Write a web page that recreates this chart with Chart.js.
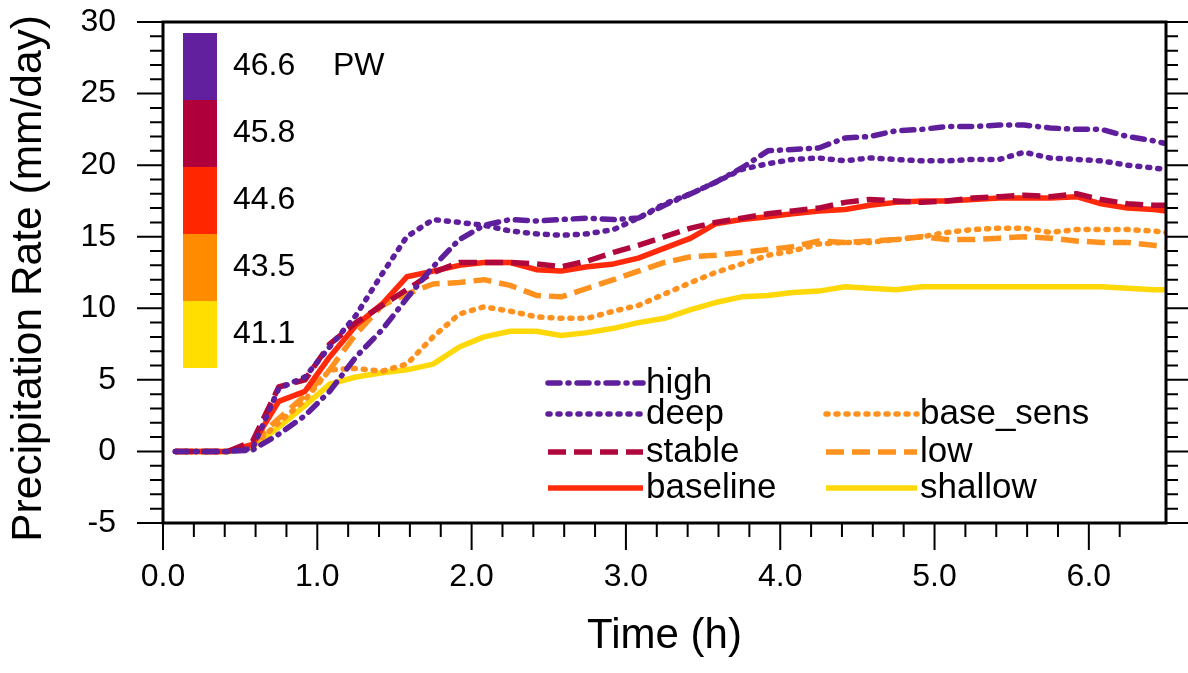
<!DOCTYPE html>
<html>
<head>
<meta charset="utf-8">
<script src="https://cdn.jsdelivr.net/npm/chart.js@4.4.0/dist/chart.umd.min.js"></script>
<style>
html, body { margin: 0; padding: 0; background: #fff; }
#wrap { width: 1188px; height: 673px; }
</style>
</head>
<body>
<div id="wrap"><canvas id="rateChart"></canvas></div>
<script>
// time in hours, values in mm/day
const times = [0.08, 0.25, 0.42, 0.58, 0.75, 0.92, 1.08, 1.25, 1.42, 1.58, 1.75, 1.92, 2.08, 2.25, 2.42, 2.58, 2.75, 2.92, 3.08, 3.25,
               3.42, 3.58, 3.75, 3.92, 4.08, 4.25, 4.42, 4.58, 4.75, 4.92, 5.08, 5.25, 5.42, 5.58, 5.75, 5.92, 6.08, 6.25, 6.42, 6.5];

const high      = [0, 0, 0, 0.1, 1.2, 2.5, 4.2, 6.6, 8.5, 10.7, 12.9, 14.8, 15.8, 16.2, 16.1, 16.2, 16.3, 16.2, 16.3, 17.2,
                   18.0, 18.8, 19.8, 21.0, 21.1, 21.2, 21.9, 22.0, 22.4, 22.5, 22.7, 22.7, 22.8, 22.8, 22.6, 22.5, 22.5, 22.0, 21.7, 21.5];
const deep      = [0, 0, 0, 0.2, 4.4, 5.2, 7.3, 9.5, 12.4, 15.0, 16.2, 16.0, 15.8, 15.4, 15.2, 15.1, 15.2, 15.5, 16.3, 17.3,
                   18.0, 18.8, 19.7, 20.1, 20.4, 20.5, 20.3, 20.5, 20.4, 20.3, 20.3, 20.4, 20.4, 20.9, 20.5, 20.4, 20.3, 20.0, 19.8, 19.7];
const stable    = [0, 0, 0, 0.7, 4.5, 5.0, 7.5, 9.0, 10.2, 11.3, 12.5, 13.2, 13.2, 13.2, 13.1, 12.9, 13.3, 13.9, 14.4, 15.0,
                   15.6, 16.0, 16.3, 16.6, 16.8, 17.0, 17.4, 17.6, 17.5, 17.4, 17.5, 17.7, 17.8, 17.9, 17.8, 18.0, 17.6, 17.3, 17.2, 17.2];
const baseline  = [0, 0, 0, 0.5, 3.5, 4.2, 6.6, 8.8, 10.3, 12.2, 12.6, 13.0, 13.2, 13.2, 12.7, 12.6, 12.9, 13.1, 13.5, 14.2,
                   14.9, 15.9, 16.2, 16.4, 16.6, 16.8, 16.9, 17.2, 17.4, 17.5, 17.5, 17.6, 17.7, 17.7, 17.7, 17.8, 17.3, 17.0, 16.9, 16.8];
const baseSens  = [0, 0, 0, 0.4, 2.0, 3.6, 5.7, 5.8, 5.6, 6.1, 8.0, 9.6, 10.1, 9.8, 9.4, 9.3, 9.3, 9.8, 10.2, 11.0,
                   11.8, 12.5, 13.1, 13.7, 14.0, 14.5, 14.6, 14.6, 14.8, 15.0, 15.3, 15.5, 15.6, 15.6, 15.3, 15.5, 15.5, 15.5, 15.4, 15.3];
const low       = [0, 0, 0, 0.6, 2.3, 3.9, 5.7, 8.2, 10.2, 11.0, 11.7, 11.8, 12.0, 11.6, 10.9, 10.8, 11.4, 12.0, 12.6, 13.2,
                   13.6, 13.7, 13.9, 14.1, 14.3, 14.7, 14.6, 14.7, 14.8, 15.0, 14.8, 14.8, 14.9, 15.0, 14.9, 14.7, 14.6, 14.6, 14.4, 14.3];
const shallow   = [0, 0, 0, 0.3, 1.7, 3.2, 4.7, 5.2, 5.5, 5.7, 6.1, 7.3, 8.0, 8.4, 8.4, 8.1, 8.3, 8.6, 9.0, 9.3,
                   9.9, 10.4, 10.8, 10.9, 11.1, 11.2, 11.5, 11.4, 11.3, 11.5, 11.5, 11.5, 11.5, 11.5, 11.5, 11.5, 11.5, 11.4, 11.3, 11.3];

const seriesNames = ['high', 'deep', 'stable', 'baseline', 'base_sens', 'low', 'shallow'];
const seriesValues = [high, deep, stable, baseline, baseSens, low, shallow];

// colour bar (PW)
const pwLabels = ['46.6', '45.8', '44.6', '43.5', '41.1'];

const FONT = '"Liberation Sans", Arial, Helvetica, sans-serif';
const purple = '#5f1f9c';
const crimson = '#b0083c';
const red = '#ff2a0a';
const orange = '#ff911f';
const yellow = '#ffd80a';
const pwColors = ['#62209e', '#b0003c', '#ff2600', '#ff8c00', '#ffde00'];

const lineStyles = [
    { color: purple, dash: [12, 8, 1, 8], cap: 'round' },
    { color: purple, dash: [2, 8], cap: 'round' },
    { color: crimson, dash: [18, 8], cap: 'butt' },
    { color: red, dash: [], cap: 'butt' },
    { color: orange, dash: [2, 8], cap: 'round' },
    { color: orange, dash: [18, 8], cap: 'butt' },
    { color: yellow, dash: [], cap: 'butt' }
];

// legend slot for each series: [column, row]
const legendSlots = [[0, 0], [0, 1], [0, 2], [0, 3], [1, 1], [1, 2], [1, 3]];

const datasets = seriesNames.map((name, i) => ({
    label: name,
    data: times.map((t, k) => ({ x: t, y: seriesValues[i][k] })),
    borderColor: lineStyles[i].color,
    borderDash: lineStyles[i].dash,
    borderCapStyle: lineStyles[i].cap,
    borderJoinStyle: 'round',
    borderWidth: 5.5,
    pointRadius: 0,
    tension: 0,
    fill: false
}));

const isWhole = v => Math.abs(v - Math.round(v)) < 1e-6;

const frameAndExtras = {
    id: 'frameAndExtras',
    afterDraw(chart) {
        const ctx = chart.ctx;
        const a = chart.chartArea;
        const xs = chart.scales.x;
        const ys = chart.scales.y;
        ctx.save();

        // frame
        ctx.strokeStyle = '#000';
        ctx.lineWidth = 3;
        ctx.strokeRect(a.left, a.top, a.right - a.left, a.bottom - a.top);

        // tick marks, pointing outward
        ctx.lineWidth = 2;
        ctx.beginPath();
        ys.ticks.forEach(t => {
            const y = ys.getPixelForValue(t.value);
            const major = t.value % 5 === 0;
            ctx.moveTo(a.left - (major ? 26 : 13), y);
            ctx.lineTo(a.left, y);
            ctx.moveTo(a.right, y);
            ctx.lineTo(a.right + (major ? 24 : 12), y);
        });
        xs.ticks.forEach(t => {
            if (!isWhole(t.value * 5)) return;
            const x = xs.getPixelForValue(t.value);
            ctx.moveTo(x, a.bottom);
            ctx.lineTo(x, a.bottom + (isWhole(t.value) ? 27 : 14));
        });
        ctx.stroke();

        // PW colour bar
        const bx = a.left + 20, bw = 34, by = a.top + 11, bh = 67;
        pwColors.forEach((c, i) => {
            ctx.fillStyle = c;
            ctx.fillRect(bx, by + i * bh, bw, bh);
        });
        ctx.fillStyle = '#000';
        ctx.font = '32px ' + FONT;
        ctx.textBaseline = 'middle';
        ctx.textAlign = 'left';
        pwLabels.forEach((l, i) => ctx.fillText(l, bx + 50, by + i * bh + bh / 2));
        ctx.fillText('PW', a.left + 170, by + bh / 2);

        // legend inside plot
        const colX = [[a.left + 385, a.left + 480], [a.left + 663, a.left + 754]];
        const rowY = [a.top + 361, a.top + 392, a.top + 430, a.top + 466];
        ctx.font = '35px ' + FONT;
        chart.data.datasets.forEach((ds, i) => {
            const [c, r] = legendSlots[i];
            const y = rowY[r];
            ctx.strokeStyle = ds.borderColor;
            ctx.lineWidth = ds.borderWidth;
            ctx.lineCap = ds.borderCapStyle;
            ctx.setLineDash(ds.borderDash);
            ctx.beginPath();
            ctx.moveTo(colX[c][0], y);
            ctx.lineTo(colX[c][1], y);
            ctx.stroke();
            ctx.setLineDash([]);
            ctx.fillStyle = '#000';
            ctx.fillText(ds.label, colX[c][1] + 3, y);
        });
        ctx.restore();
    }
};

const ctx = document.getElementById('rateChart').getContext('2d');
new Chart(ctx, {
    type: 'line',
    data: { datasets: datasets },
    options: {
        responsive: true,
        maintainAspectRatio: false,
        animation: false,
        layout: { padding: { top: 22, right: 22, left: 0, bottom: 0 } },
        plugins: {
            legend: { display: false },
            tooltip: { enabled: false }
        },
        scales: {
            x: {
                type: 'linear',
                min: 0,
                max: 6.5,
                afterFit: scale => {
                    scale.height = 150;
                    scale.paddingLeft = 0;
                    scale.paddingRight = 0;
                },
                grid: { display: false, drawTicks: false },
                border: { display: false },
                ticks: {
                    stepSize: 0.2,
                    autoSkip: false,
                    maxRotation: 0,
                    minRotation: 0,
                    padding: 35,
                    color: '#000',
                    font: { family: FONT, size: 32 },
                    callback: v => isWhole(v) ? v.toFixed(1) : ''
                },
                title: {
                    display: true,
                    text: 'Time (h)',
                    color: '#000',
                    font: { family: FONT, size: 42 },
                    padding: { top: 0, bottom: 11 }
                }
            },
            y: {
                min: -5,
                max: 30,
                afterFit: scale => {
                    scale.width = 163;
                    scale.paddingTop = 0;
                    scale.paddingBottom = 0;
                },
                grid: { display: false, drawTicks: false },
                border: { display: false },
                ticks: {
                    stepSize: 1,
                    autoSkip: false,
                    padding: 47,
                    color: '#000',
                    font: { family: FONT, size: 32 },
                    callback: v => v % 5 === 0 ? String(v) : ''
                },
                title: {
                    display: true,
                    text: 'Precipitation Rate (mm/day) ',
                    color: '#000',
                    font: { family: FONT, size: 42.5 },
                    padding: { top: 4, bottom: 0 }
                }
            }
        }
    },
    plugins: [frameAndExtras]
});
</script>
</body>
</html>
